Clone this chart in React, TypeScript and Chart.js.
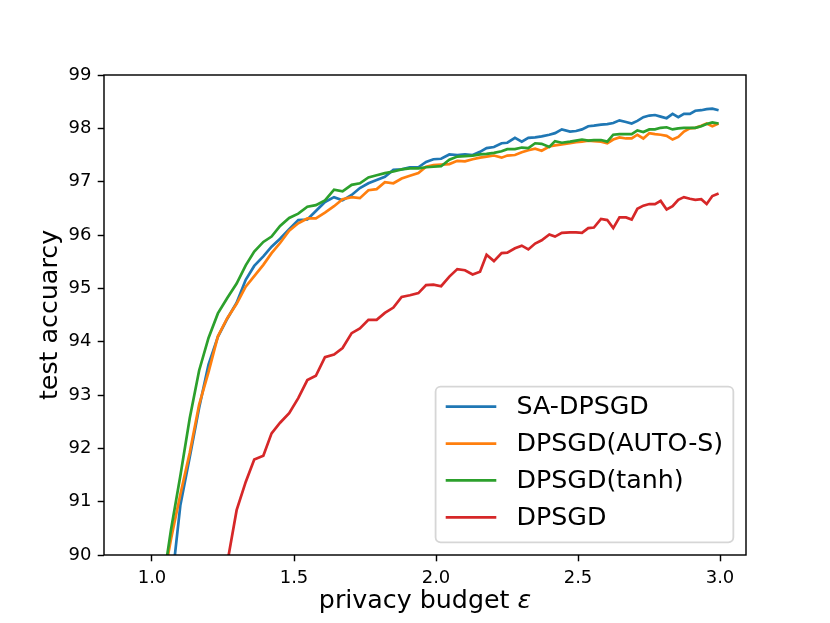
import React, { useEffect, useRef } from "react";
import { Chart, registerables } from "chart.js";

Chart.register(...registerables);

// privacy budget epsilon at each evaluation point
const EPS = [
  0.935, 0.968, 1.001, 1.034, 1.067, 1.100, 1.133, 1.166, 1.199, 1.232,
  1.265, 1.298, 1.330, 1.360, 1.392, 1.421, 1.451, 1.483, 1.515, 1.547,
  1.577, 1.609, 1.641, 1.671, 1.703, 1.732, 1.762, 1.791, 1.820, 1.850,
  1.879, 1.908, 1.938, 1.965, 1.991, 2.018, 2.047, 2.075, 2.102, 2.129,
  2.155, 2.178, 2.204, 2.231, 2.251, 2.278, 2.302, 2.325, 2.349, 2.372,
  2.399, 2.419, 2.443, 2.472, 2.493, 2.514, 2.536, 2.556, 2.581, 2.603,
  2.624, 2.646, 2.669, 2.689, 2.709, 2.730, 2.751, 2.771, 2.791, 2.812,
  2.833, 2.853, 2.873, 2.894, 2.913, 2.934, 2.953, 2.973, 2.995,
];

const SA_DPSGD = [
  null, null, null, 87.8, 89.34, 90.94, 91.84, 92.76, 93.57, 94.09,
  94.43, 94.73, 95.16, 95.42, 95.60, 95.78, 95.93, 96.11, 96.28, 96.29,
  96.45, 96.62, 96.71, 96.65, 96.75, 96.88, 96.97, 97.03, 97.09, 97.22,
  97.23, 97.27, 97.27, 97.37, 97.42, 97.43, 97.51, 97.50, 97.51, 97.50,
  97.56, 97.63, 97.65, 97.72, 97.73, 97.82, 97.75, 97.82, 97.83, 97.85,
  97.88, 97.91, 97.98, 97.94, 97.95, 97.98, 98.04, 98.05, 98.07, 98.08,
  98.10, 98.15, 98.12, 98.09, 98.14, 98.21, 98.24, 98.25, 98.22, 98.19,
  98.27, 98.21, 98.27, 98.27, 98.33, 98.34, 98.36, 98.37, 98.34,
];

const AUTO_S = [
  null, null, null, 89.35, 90.30, 91.14, 91.92, 92.82, 93.43, 94.10,
  94.44, 94.71, 95.03, 95.23, 95.44, 95.66, 95.85, 96.08, 96.22, 96.31,
  96.31, 96.42, 96.54, 96.67, 96.71, 96.69, 96.84, 96.86, 96.99, 96.97,
  97.06, 97.11, 97.16, 97.28, 97.31, 97.32, 97.33, 97.39, 97.38, 97.42,
  97.45, 97.47, 97.49, 97.45, 97.49, 97.50, 97.55, 97.59, 97.62, 97.58,
  97.66, 97.68, 97.70, 97.72, 97.74, 97.75, 97.77, 97.76, 97.75, 97.72,
  97.79, 97.83, 97.81, 97.81, 97.88, 97.81, 97.91, 97.89, 97.88, 97.86,
  97.79, 97.84, 97.94, 98.00, 98.01, 98.05, 98.09, 98.04, 98.09,
];

const TANH = [
  null, null, null, 89.30, 90.48, 91.49, 92.57, 93.46, 94.07, 94.53,
  94.82, 95.09, 95.43, 95.69, 95.87, 95.97, 96.17, 96.32, 96.40, 96.53,
  96.56, 96.65, 96.85, 96.82, 96.94, 96.97, 97.08, 97.12, 97.16, 97.19,
  97.23, 97.25, 97.25, 97.27, 97.28, 97.29, 97.41, 97.47, 97.48, 97.49,
  97.51, 97.52, 97.54, 97.57, 97.61, 97.61, 97.64, 97.63, 97.72, 97.71,
  97.65, 97.76, 97.73, 97.75, 97.77, 97.79, 97.77, 97.78, 97.78, 97.75,
  97.88, 97.89, 97.89, 97.89, 97.96, 97.93, 97.98, 97.98, 98.01, 98.02,
  97.98, 98.00, 98.01, 98.01, 98.01, 98.04, 98.08, 98.11, 98.09,
];

const DPSGD = [
  null, null, null, null, null, null, null, null, null, null,
  89.85, 90.84, 91.37, 91.79, 91.86, 92.28, 92.48, 92.66, 92.94, 93.28,
  93.36, 93.71, 93.76, 93.88, 94.16, 94.25, 94.41, 94.41, 94.54, 94.64,
  94.84, 94.87, 94.91, 95.06, 95.07, 95.04, 95.22, 95.36, 95.34, 95.26,
  95.31, 95.63, 95.51, 95.66, 95.67, 95.75, 95.80, 95.73, 95.84, 95.90,
  96.01, 95.97, 96.04, 96.05, 96.05, 96.04, 96.13, 96.14, 96.30, 96.28,
  96.13, 96.33, 96.33, 96.29, 96.49, 96.55, 96.58, 96.58, 96.64, 96.48,
  96.54, 96.66, 96.71, 96.68, 96.66, 96.67, 96.58, 96.73, 96.78,
];

const SERIES = [SA_DPSGD, AUTO_S, TANH, DPSGD];
const SERIES_NAMES = ["SA-DPSGD", "DPSGD(AUTO-S)", "DPSGD(tanh)", "DPSGD"];
const COLORS = ["#1f77b4", "#ff7f0e", "#2ca02c", "#d62728"];

const X_TICKS = [1.0, 1.5, 2.0, 2.5, 3.0];
const Y_TICKS = [90, 91, 92, 93, 94, 95, 96, 97, 98, 99];
const X_MIN = 0.831;
const X_MAX = 3.0915;
const Y_MIN = 90;
const Y_MAX = 99;

const X_LABEL = "privacy budget ";
const X_LABEL_SYMBOL = "ε";
const Y_LABEL = "test accuarcy";

const FONT = '"DejaVu Sans", sans-serif';
const LABEL_PX = 25.3;
const TICK_PX = 18;
const LINE_W = 2.7;

const decorPlugin = {
  id: "decor",
  afterDatasetsDraw(chart: any) {
    const { ctx, chartArea: a } = chart;
    ctx.save();
    // frame (spines)
    ctx.strokeStyle = "#000";
    ctx.lineWidth = 1.44;
    ctx.strokeRect(a.left, a.top, a.right - a.left, a.bottom - a.top);

    // legend
    ctx.font = `${LABEL_PX}px ${FONT}`;
    let maxW = 0;
    SERIES_NAMES.forEach((n) => {
      maxW = Math.max(maxW, ctx.measureText(n).width);
    });
    const pad = 0.4 * LABEL_PX;
    const handle = 2.0 * LABEL_PX;
    const textPad = 0.8 * LABEL_PX;
    const rowGap = 36.9;
    const boxW = pad + handle + textPad + maxW + pad;
    const boxH = 155.7;
    const bx1 = a.right - 0.5 * LABEL_PX;
    const by1 = a.bottom - 0.5 * LABEL_PX;
    const bx0 = bx1 - boxW;
    const by0 = by1 - boxH;
    ctx.beginPath();
    ctx.roundRect(bx0, by0, boxW, boxH, 5);
    ctx.fillStyle = "rgba(255,255,255,0.8)";
    ctx.fill();
    ctx.strokeStyle = "rgba(204,204,204,0.8)";
    ctx.lineWidth = 1.8;
    ctx.stroke();
    SERIES_NAMES.forEach((n, i) => {
      const y = by0 + 20 + i * rowGap;
      ctx.beginPath();
      ctx.moveTo(bx0 + pad, y);
      ctx.lineTo(bx0 + pad + handle, y);
      ctx.strokeStyle = COLORS[i];
      ctx.lineWidth = LINE_W;
      ctx.lineCap = "butt";
      ctx.stroke();
      ctx.fillStyle = "#000";
      ctx.textBaseline = "middle";
      ctx.textAlign = "left";
      ctx.fillText(n, bx0 + pad + handle + textPad, y + 1);
    });

    // axis titles
    ctx.fillStyle = "#000";
    ctx.textBaseline = "alphabetic";
    ctx.font = `${LABEL_PX}px ${FONT}`;
    const w1 = ctx.measureText(X_LABEL).width;
    ctx.font = `italic ${LABEL_PX}px ${FONT}`;
    const w2 = ctx.measureText(X_LABEL_SYMBOL).width;
    const cx = (a.left + a.right) / 2;
    const sx = cx - (w1 + w2) / 2;
    ctx.textAlign = "left";
    ctx.font = `${LABEL_PX}px ${FONT}`;
    ctx.fillText(X_LABEL, sx, 608);
    ctx.font = `italic ${LABEL_PX}px ${FONT}`;
    ctx.fillText(X_LABEL_SYMBOL, sx + w1, 608);

    ctx.font = `${LABEL_PX}px ${FONT}`;
    ctx.translate(57, (a.top + a.bottom) / 2);
    ctx.rotate(-Math.PI / 2);
    ctx.textAlign = "center";
    ctx.fillText(Y_LABEL, 0, 0);
    ctx.restore();
  },
};

export default function App() {
  const ref = useRef<HTMLCanvasElement | null>(null);

  useEffect(() => {
    if (!ref.current) return;
    const datasets = SERIES.map((s, i) => ({
      label: SERIES_NAMES[i],
      data: EPS.map((x, j) => ({ x, y: s[j] })),
      borderColor: COLORS[i],
      backgroundColor: COLORS[i],
      borderWidth: LINE_W,
      pointRadius: 0,
      tension: 0,
      fill: false,
      spanGaps: false,
      clip: 0,
      order: SERIES.length - 1 - i,
    }));
    const tickCommon = {
      color: "#000",
      font: { family: FONT, size: TICK_PX },
      padding: 6.3,
      autoSkip: false,
      maxRotation: 0,
      minRotation: 0,
    };
    const gridCommon = {
      display: true,
      drawOnChartArea: false,
      drawTicks: true,
      tickLength: 6.3,
      tickColor: "#000",
      tickWidth: 1.44,
    };
    const chart = new Chart(ref.current, {
      type: "line",
      data: { datasets: datasets as any },
      plugins: [decorPlugin],
      options: {
        animation: false,
        responsive: false,
        maintainAspectRatio: false,
        layout: { padding: { left: 0, top: 75, right: 84, bottom: 0 } },
        plugins: {
          legend: { display: false },
          tooltip: { enabled: false },
          title: { display: false },
        },
        scales: {
          x: {
            type: "linear",
            min: X_MIN,
            max: X_MAX,
            border: { display: false },
            grid: gridCommon,
            ticks: {
              ...tickCommon,
              callback: (v: any) => Number(v).toFixed(1),
            },
            afterBuildTicks: (scale: any) => {
              scale.ticks = X_TICKS.map((v) => ({ value: v }));
            },
            afterFit: (scale: any) => {
              scale.height = 68;
            },
          },
          y: {
            type: "linear",
            min: Y_MIN,
            max: Y_MAX,
            border: { display: false },
            grid: gridCommon,
            ticks: {
              ...tickCommon,
              callback: (v: any) => String(v),
            },
            afterBuildTicks: (scale: any) => {
              scale.ticks = Y_TICKS.map((v) => ({ value: v }));
            },
            afterFit: (scale: any) => {
              scale.width = 104;
            },
          },
        },
      } as any,
    });
    return () => chart.destroy();
  }, []);

  return (
    <div style={{ position: "absolute", left: 0, top: 0, width: 830, height: 623, background: "#fff" }}>
      <canvas ref={ref} width={830} height={623} style={{ display: "block" }} />
    </div>
  );
}
